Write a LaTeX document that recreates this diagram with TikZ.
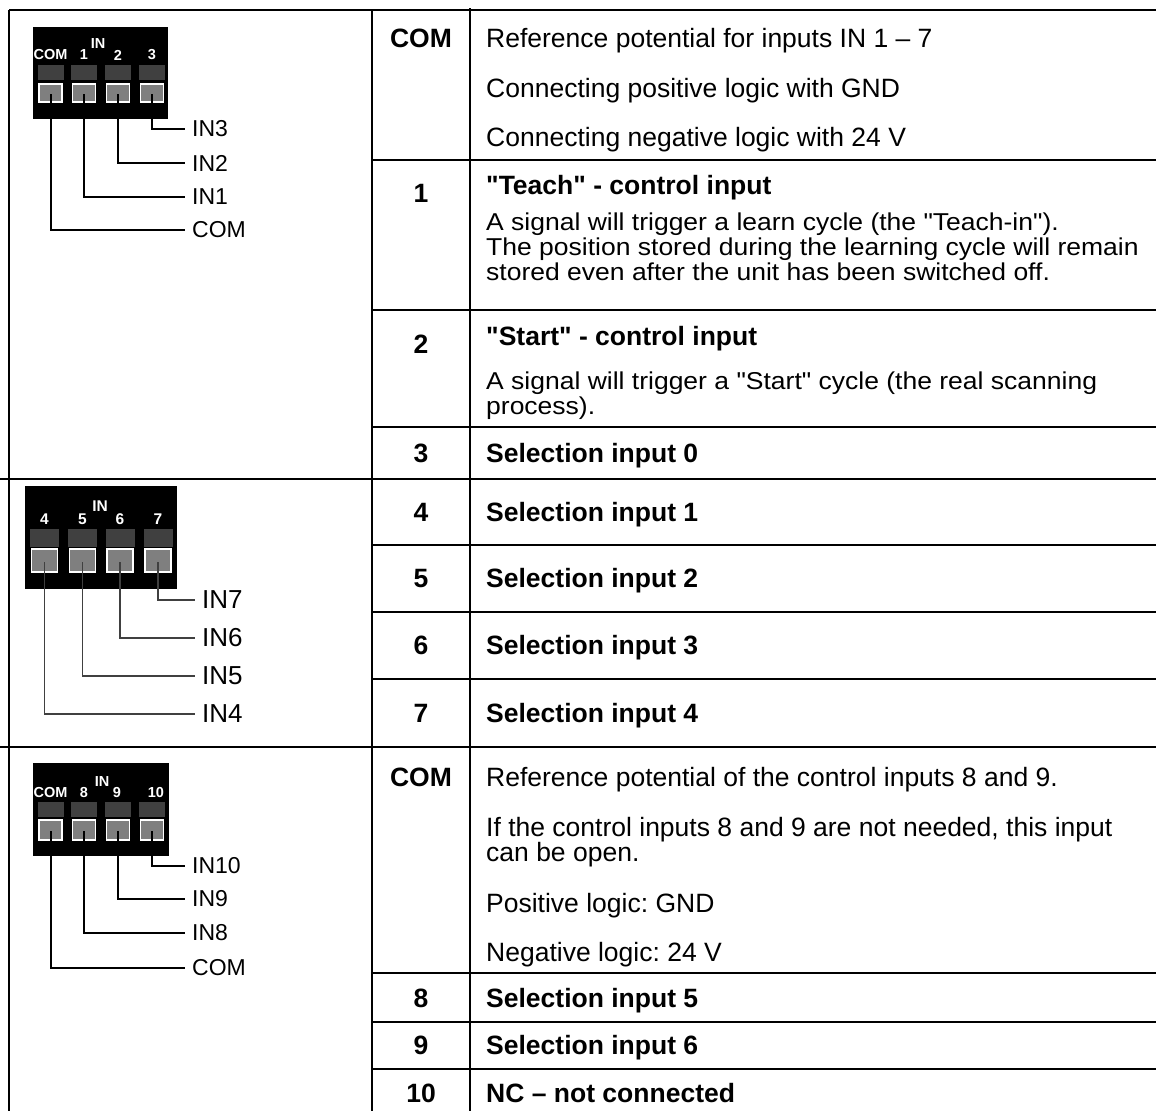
\documentclass[tikz,border=0pt]{standalone}
\usepackage{fontspec}
\setmainfont{Liberation Sans}[Ligatures=TeXOff]
\definecolor{termdark}{HTML}{404040}
\definecolor{termlight}{HTML}{7F7F7F}
\newcommand{\squeeze}[1]{\scalebox{1}[0.92]{#1}}
\frenchspacing
\tikzset{
  grid/.style={line width=2pt},
  txt/.style={anchor=base west,inner sep=0pt,font=\fontsize{26.5}{28}\selectfont},
  head/.style={txt,font=\fontsize{26.5}{28}\selectfont\bfseries},
  num/.style={anchor=base,inner sep=0pt,font=\fontsize{26.5}{28}\selectfont\bfseries},
  block/.style={fill=black},
  termtop/.style={fill=termdark},
  termbot/.style={fill=termlight,draw=white,line width=1.2pt},
  pinlbl/.style={text=white,inner sep=0pt,font=\fontsize{14.5}{15}\selectfont\bfseries},
  bigpin/.style={pinlbl,font=\fontsize{15.5}{16}\selectfont\bfseries},
  wirelbl/.style={anchor=west,inner xsep=7pt,inner ysep=0pt,font=\fontsize{23}{24}\selectfont},
  bigwirelbl/.style={wirelbl,font=\fontsize{26}{27}\selectfont},
  wire/.style={line width=2pt},
  thinwire/.style={line width=1.2pt,draw=termdark}
}
\begin{document}
\frenchspacing
\begin{tikzpicture}[x=1pt,y=-1pt]
  \useasboundingbox (0,0) rectangle (1156,1111);

  % table grid
  \draw[grid] (9,10) -- (1156,10);
  \draw[grid] (0,479) -- (1156,479);
  \draw[grid] (0,747) -- (1156,747);
  \draw[grid] (9,10) -- (9,1111);
  \draw[grid] (372,10) -- (372,1111);
  \draw[grid] (470,8) -- (470,1111);
  \foreach \y in {160,310,427,545,612,679,973,1022,1069}
    \draw[grid] (372,\y) -- (1156,\y);

  % terminal block IN 1-3
  \fill[block] (33,27) rectangle (168,119);
  \foreach \x/\n in {50.5/a,84/b,118/c,152/d} {
    \fill[termtop] (\x-13,65) rectangle (\x+13,80);
    \filldraw[termbot] (\x-11.5,84) rectangle (\x+11.5,102);
    \coordinate (ta\n) at (\x,94);
  }
  \node[pinlbl] at (50.5,55) {COM};
  \node[pinlbl] at (84,55) {1};
  \node[pinlbl] at (98,44) {IN};
  \node[pinlbl] at (118,55) {2};
  \node[pinlbl] at (152,55) {3};
  \node[wirelbl] (in3) at (185,129) {IN3};
  \node[wirelbl] (in2) at (185,163) {IN2};
  \node[wirelbl] (in1) at (185,197) {IN1};
  \node[wirelbl] (comA) at (185,230) {COM};
  \draw[wire] (tad) |- (in3.west);
  \draw[wire] (tac) |- (in2.west);
  \draw[wire] (tab) |- (in1.west);
  \draw[wire] (taa) |- (comA.west);

  % terminal block IN 4-7
  \fill[block] (25,486) rectangle (177,589);
  \foreach \x/\n in {44.5/a,82.5/b,120/c,158/d} {
    \fill[termtop] (\x-14.5,529) rectangle (\x+14.5,547);
    \filldraw[termbot] (\x-13,549) rectangle (\x+13,572);
    \coordinate (tb\n) at (\x,562);
  }
  \node[bigpin] at (44.5,519) {4};
  \node[bigpin] at (82.5,519) {5};
  \node[bigpin] at (100,506) {IN};
  \node[bigpin] at (120,519) {6};
  \node[bigpin] at (158,519) {7};
  \node[bigwirelbl] (in7) at (195,600) {IN7};
  \node[bigwirelbl] (in6) at (195,638) {IN6};
  \node[bigwirelbl] (in5) at (195,676) {IN5};
  \node[bigwirelbl] (in4) at (195,714) {IN4};
  \draw[thinwire] (tbd) |- (in7.west);
  \draw[thinwire] (tbc) |- (in6.west);
  \draw[thinwire] (tbb) |- (in5.west);
  \draw[thinwire] (tba) |- (in4.west);

  % terminal block IN 8-10
  \fill[block] (33,763) rectangle (169,856);
  \foreach \x/\n in {50.5/a,84/b,118/c,152/d} {
    \fill[termtop] (\x-13,802) rectangle (\x+13,817);
    \filldraw[termbot] (\x-11.5,820) rectangle (\x+11.5,840);
    \coordinate (tc\n) at (\x,831);
  }
  \node[pinlbl] at (50.5,792) {COM};
  \node[pinlbl] at (84,792) {8};
  \node[pinlbl] at (102,781) {IN};
  \node[pinlbl] at (117,792) {9};
  \node[pinlbl] at (156,792) {10};
  \node[wirelbl] (in10) at (185,866) {IN10};
  \node[wirelbl] (in9) at (185,899) {IN9};
  \node[wirelbl] (in8) at (185,933) {IN8};
  \node[wirelbl] (comB) at (185,968) {COM};
  \draw[wire] (tcd) |- (in10.west);
  \draw[wire] (tcc) |- (in9.west);
  \draw[wire] (tcb) |- (in8.west);
  \draw[wire] (tca) |- (comB.west);

  % first block: rows
  \node[num] (nCom) at (421,47) {COM};
  \node[txt] (dCom1) at (486,47) {Reference potential for inputs IN 1 – 7};
  \node[txt] (dCom2) at (486,97) {Connecting positive logic with GND};
  \node[txt] (dCom3) at (486,146) {Connecting negative logic with 24 V};

  \node[num] (n1) at (421,202) {1};
  \node[head] (h1) at (486,194) {"Teach" - control input};
  \node[txt] (d1a) at (486,230) {\squeeze{A signal will trigger a learn cycle (the "Teach-in").}};
  \node[txt] (d1b) at (486,255) {\squeeze{The position stored during the learning cycle will remain}};
  \node[txt] (d1c) at (486,280) {\squeeze{stored even after the unit has been switched off.}};

  \node[num] (n2) at (421,353) {2};
  \node[head] (h2) at (486,345) {"Start" - control input};
  \node[txt] (d2a) at (486,389) {\squeeze{A signal will trigger a "Start" cycle (the real scanning}};
  \node[txt] (d2b) at (486,414) {\squeeze{process).}};

  \node[num] (n3) at (421,462.5) {3};
  \node[head] (h3) at (486,462.5) {Selection input 0};

  % second block: rows
  \node[num] (n4) at (421,521.5) {4};
  \node[head] (h4) at (486,521.5) {Selection input 1};
  \node[num] (n5) at (421,587.5) {5};
  \node[head] (h5) at (486,587.5) {Selection input 2};
  \node[num] (n6) at (421,654.5) {6};
  \node[head] (h6) at (486,654.5) {Selection input 3};
  \node[num] (n7) at (421,722.5) {7};
  \node[head] (h7) at (486,722.5) {Selection input 4};

  % third block: rows
  \node[num] (nCom2) at (421,786) {COM};
  \node[txt] (dC1) at (486,786) {Reference potential of the control inputs 8 and 9.};
  \node[txt] (dC2) at (486,836) {If the control inputs 8 and 9 are not needed, this input};
  \node[txt] (dC3) at (486,861) {can be open.};
  \node[txt] (dC4) at (486,912) {Positive logic: GND};
  \node[txt] (dC5) at (486,961) {Negative logic: 24 V};

  \node[num] (n8) at (421,1007.5) {8};
  \node[head] (h8) at (486,1007.5) {Selection input 5};
  \node[num] (n9) at (421,1054.5) {9};
  \node[head] (h9) at (486,1054.5) {Selection input 6};
  \node[num] (n10) at (421,1102.5) {10};
  \node[head] (h10) at (486,1102.5) {NC – not connected};
\end{tikzpicture}
\end{document}
